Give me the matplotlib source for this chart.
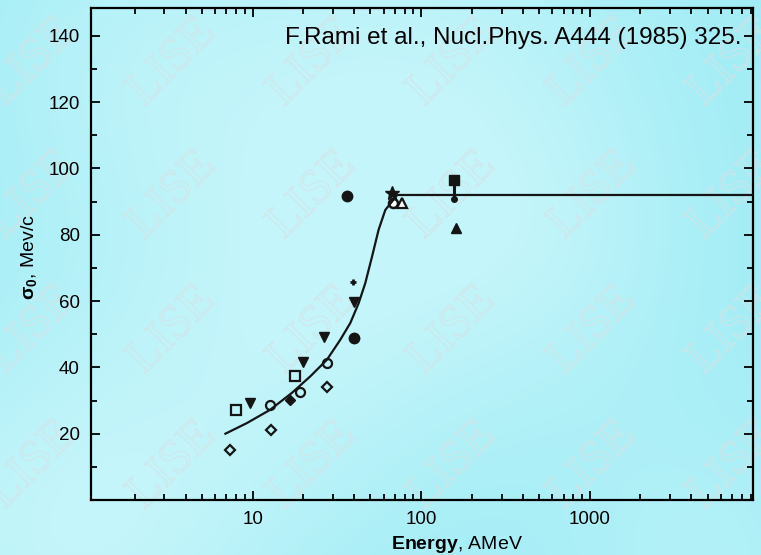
import numpy as np
import matplotlib
matplotlib.use("Agg")
import matplotlib.pyplot as plt
import matplotlib.patheffects as pe
from matplotlib.ticker import FixedLocator, NullFormatter

plt.rcParams['font.family'] = ['Liberation Sans', 'DejaVu Sans']
plt.rcParams['mathtext.fontset'] = 'custom'
plt.rcParams['mathtext.rm'] = 'Liberation Sans'
plt.rcParams['mathtext.bf'] = 'Liberation Sans:bold'
plt.rcParams['mathtext.it'] = 'Liberation Sans:italic'

# ---- data (energy in AMeV, sigma0 in MeV/c) ----
curve_e = [6.9, 9.25, 12.7, 17.1, 22.0, 27.6, 33.1, 38.0, 42.6, 46.6, 51.1, 55.9, 61.3, 67.1, 72.0, 9300.0]
curve_s = [20.0, 23.2, 27.2, 32.3, 37.3, 42.3, 48.3, 53.4, 59.4, 65.4, 73.4, 81.5, 87.5, 90.0, 92.0, 92.0]

open_diamond_e = [7.3, 12.85, 27.6]
open_diamond_s = [15.0, 21.2, 34.0]

open_square_e = [7.97, 17.9]
open_square_s = [27.0, 37.3]

down_tri_e = [9.7, 19.9, 26.4, 40.2]
down_tri_s = [29.4, 41.5, 49.3, 59.6]

open_circle_e = [12.6, 19.2, 27.6]
open_circle_s = [28.7, 32.6, 41.3]

filled_diamond_e = [16.7]
filled_diamond_s = [30.2]

big_dot_e = [40.2, 36.3]
big_dot_s = [48.8, 91.7]

small_star_e = [39.4]
small_star_s = [65.9]

star_e = [67.1]
star_s = [92.5]

ring_e = [67.7]
ring_s = [89.7]

open_tri_e = [77.0]
open_tri_s = [89.7]

square_err_e = [156.0]
square_err_top = [96.6]
square_err_bottom = [90.7]

filled_tri_e = [162.0]
filled_tri_s = [82.0]

y_major = [20, 40, 60, 80, 100, 120, 140]
y_minor = [10, 30, 50, 70, 90, 110, 130]
x_major = [10, 100, 1000]
x_labels = ['10', '100', '1000']

W, H = 761, 555
fig = plt.figure(figsize=(W / 100, H / 100), dpi=100)

# background: soft cyan sky
bg = fig.add_axes([0, 0, 1, 1], zorder=-5)
yy, xx = np.mgrid[0:H, 0:W]
dark = np.array([0.62, 0.925, 0.96])
light = np.array([0.77, 0.962, 0.982])
t = np.zeros((H, W))
for cx, cy, r, a in [(420, 90, 170, 0.8), (300, 340, 150, 0.6), (60, 540, 160, 0.9),
                     (120, 60, 130, 0.5), (560, 260, 110, 0.35), (700, 560, 120, 0.5)]:
    t += a * np.exp(-((xx - cx) ** 2 + (yy - cy) ** 2) / (2 * r ** 2))
t = np.clip(t, 0, 1)
img = dark[None, None, :] * (1 - t[..., None]) + light[None, None, :] * t[..., None]
bg.imshow(img, aspect='auto', extent=[0, W, H, 0])
bg.set_xlim(0, W)
bg.set_ylim(H, 0)
bg.axis('off')

# "LISE" watermark grid
for cy in [62, 195, 330, 465]:
    for cx in [32, 172, 312, 452, 592, 732]:
        fig.text(cx / W, 1 - cy / H, 'LISE', fontsize=35, family='Liberation Serif',
                 rotation=45, ha='center', va='center', color=(1, 1, 1, 0),
                 zorder=-4,
                 path_effects=[pe.Stroke(linewidth=0.9, foreground=(0.83, 0.89, 0.90, 0.75))])

ax = fig.add_axes([91 / W, 55 / H, (753 - 91) / W, (500 - 8) / H])
ax.set_facecolor('none')
ax.set_xscale('log')
ax.set_xlim(1.1, 9300)
ax.set_ylim(0, 148.4)

ink = '#151515'
ax.plot(curve_e, curve_s, color=ink, lw=1.6, zorder=3)

ms = 6.5
ax.plot(open_diamond_e, open_diamond_s, 'D', ms=5.5, mfc='none', mec=ink, mew=1.6, ls='none')
ax.plot(open_square_e, open_square_s, 's', ms=ms, mfc='none', mec=ink, mew=1.6, ls='none')
ax.plot(down_tri_e, down_tri_s, 'v', ms=ms, color=ink, ls='none')
ax.plot(open_circle_e, open_circle_s, 'o', ms=ms, mfc='none', mec=ink, mew=1.6, ls='none')
ax.plot(filled_diamond_e, filled_diamond_s, 'D', ms=5.5, color=ink, ls='none')
ax.plot(big_dot_e, big_dot_s, 'o', ms=7.5, color=ink, ls='none')
ax.plot(small_star_e, small_star_s, '+', ms=5, color=ink, mew=2, ls='none')
ax.plot(star_e, star_s, '*', ms=10, color=ink, ls='none')
ax.plot(ring_e, ring_s, 'o', ms=6.5, mfc='white', mec=ink, mew=1.8, ls='none')
ax.plot(open_tri_e, open_tri_s, '^', ms=6.5, mfc='white', mec=ink, mew=1.6, ls='none')
ax.vlines(square_err_e, square_err_bottom, square_err_top, color=ink, lw=2.2)
ax.plot(square_err_e, square_err_top, 's', ms=6.5, color=ink, ls='none')
ax.plot(square_err_e, square_err_bottom, 'o', ms=4, color=ink, ls='none')
ax.plot(filled_tri_e, filled_tri_s, '^', ms=6.5, color=ink, ls='none')

ax.set_yticks(y_major)
ax.yaxis.set_minor_locator(FixedLocator(y_minor))
ax.set_xticks(x_major)
ax.set_xticklabels(x_labels)
ax.xaxis.set_minor_formatter(NullFormatter())
ax.tick_params(which='both', direction='in', top=True, right=True, width=1.3,
               labelsize=13.5, pad=8, colors='black')
ax.tick_params(which='major', length=6.5)
ax.tick_params(which='minor', length=4)
for s in ax.spines.values():
    s.set_linewidth(1.6)

ax.text(0.983, 0.939, 'F.Rami et al., Nucl.Phys. A444 (1985) 325.', transform=ax.transAxes,
        ha='right', va='center', fontsize=17.5)

ax.set_xlabel(r'$\mathbf{Energy}$, AMeV', fontsize=14)
ax.xaxis.set_label_coords(0.553, -0.07)
ax.set_ylabel(r'$\mathbf{\sigma_0}$, Mev/c', fontsize=14)
ax.yaxis.set_label_coords(-0.078, 0.494)

fig.savefig('out.png', dpi=100)
